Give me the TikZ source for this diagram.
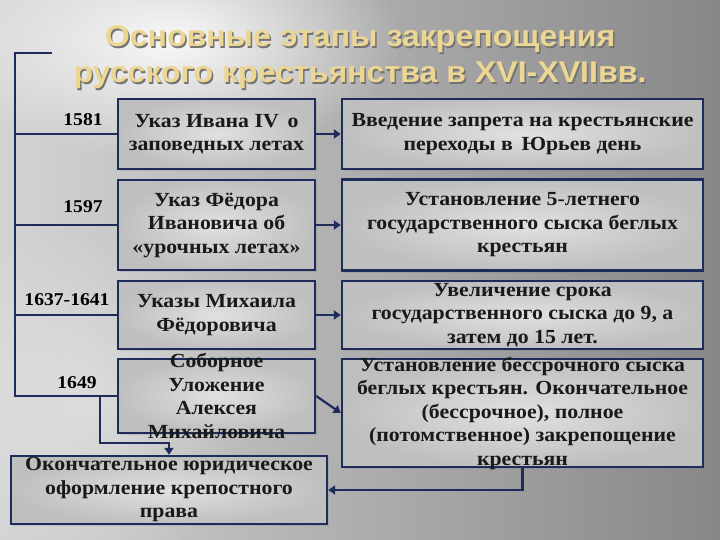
\documentclass[tikz,border=0pt]{standalone}
\usepackage{fontspec}
\setmainfont[FakeStretch=1.09]{Liberation Serif}
\newfontfamily\titlefont[FakeStretch=1.07]{Liberation Sans}
\usetikzlibrary{arrows.meta,shadows,fadings}

\definecolor{navy}{RGB}{30,44,92}
\definecolor{wheat}{RGB}{236,214,148}
\tikzfading[name=glow, inner color=transparent!0, outer color=transparent!100]

\begin{document}
\begin{tikzpicture}[x=1pt, y=-1pt,
  every node/.style={font=\fontsize{20}{23.5}\selectfont\bfseries},
  stage/.style={draw=navy, line width=2.4pt, inner color=black!12, outer color=black!25,
    drop shadow={opacity=0.25, shadow xshift=2pt, shadow yshift=-2pt}},
  txt/.style={align=center, inner sep=0pt, text=black!90},
  year/.style={anchor=base, font=\fontsize{18}{22}\selectfont\bfseries},
  title/.style={anchor=base, text=wheat, font=\titlefont\fontsize{30}{36}\selectfont\bfseries},
  link/.style={draw=navy, line width=2.2pt},
  arr/.style={link, -{Triangle[length=7pt, width=9pt]}}]

  %% Background
  \useasboundingbox (0,0) rectangle (720,540);
  \shade[left color=black!17, right color=black!47] (0,0) rectangle (720,540);
  \fill[white, path fading=glow, opacity=0.9] (170,40) ellipse (230pt and 120pt);
  \fill[white, path fading=glow, opacity=0.35] (90,400) ellipse (160pt and 180pt);

  %% Title
  \node[title, text=black!55] at (361.5,48.5) {Основные этапы закрепощения};
  \node[title, text=black!55] at (361.5,84.5) {русского крестьянства в XVI-XVIIвв.};
  \node[title] (t1) at (360,47) {Основные этапы закрепощения};
  \node[title] (t2) at (360,83) {русского крестьянства в XVI-XVIIвв.};

  %% Middle column: acts
  \node[stage, minimum width=197pt, minimum height=70pt] (ivan) at (216.5,134) {};
  \node[stage, minimum width=197pt, minimum height=90pt] (fedor) at (216.5,225) {};
  \node[stage, minimum width=197pt, minimum height=68pt] (mikh) at (216.5,315) {};
  \node[stage, minimum width=197pt, minimum height=74pt] (ulozh) at (216.5,396) {};

  %% Right column: consequences
  \node[stage, minimum width=361pt, minimum height=70pt] (yuriev) at (522.5,134) {};
  \node[stage, minimum width=361pt, minimum height=91pt] (five) at (522.5,225) {};
  \node[stage, minimum width=361pt, minimum height=68pt] (nine) at (522.5,315) {};
  \node[stage, minimum width=361pt, minimum height=108pt] (forever) at (522.5,413) {};

  %% Bottom: result
  \node[stage, minimum width=316pt, minimum height=68pt] (final) at (169,490) {};

  %% Texts
  \node[txt] at (ivan) {Указ Ивана IV\, о\\заповедных летах};
  \node[txt] at (fedor) {Указ Фёдора\\Ивановича об\\«урочных летах»};
  \node[txt] at (mikh) {Указы Михаила\\Фёдоровича};
  \node[txt] at (ulozh) {Соборное\\Уложение\\Алексея\\Михайловича};
  \node[txt] at (yuriev) {Введение запрета на крестьянские\\переходы в\, Юрьев день};
  \node[txt] at (five) {Установление 5-летнего\\государственного сыска беглых\\крестьян};
  \node[txt] at (nine) {Увеличение срока\\государственного сыска до 9, а\\затем до 15 лет.};
  \node[txt] at (forever) {Установление бессрочного сыска\\беглых крестьян. Окончательное\\(бессрочное), полное\\(потомственное) закрепощение\\крестьян};
  \node[txt] at (final) {Окончательное юридическое\\оформление крепостного\\права};

  %% Years
  \node[year] (y1581) at (83,126) {1581};
  \node[year] (y1597) at (83,212) {1597};
  \node[year] (y1637) at (67,305) {1637-1641};
  \node[year] (y1649) at (77,388) {1649};

  %% Left bracket
  \coordinate (top) at (15,53);
  \coordinate (split) at (100,396);
  \draw[link] (52,53) -- (top) -- (ulozh.west -| top) -- (ulozh.west);
  \draw[link] (ivan.west -| top) -- (ivan.west);
  \draw[link] (fedor.west -| top) -- (fedor.west);
  \draw[link] (mikh.west -| top) -- (mikh.west);

  %% Arrows
  \draw[arr] (ivan.east) -- (yuriev.west);
  \draw[arr] (fedor.east) -- (five.west);
  \draw[arr] (mikh.east) -- (nine.west);
  \draw[arr] (ulozh.east) -- (forever.west);
  \draw[arr] (split) |- ([yshift=12pt]final.north) -- (final.north);
  \draw[arr] (forever.south) |- (final.east);

\end{tikzpicture}
\end{document}
